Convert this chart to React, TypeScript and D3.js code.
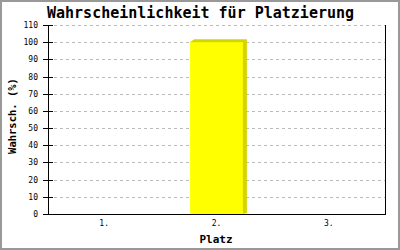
import React from "react";
import * as d3 from "d3";

const categories = ["1.", "2.", "3."];
const values = [0, 100, 0];
const yTicks = [0, 10, 20, 30, 40, 50, 60, 70, 80, 90, 100, 110];
const title = "Wahrscheinlichkeit für Platzierung";
const xTitle = "Platz";
const yTitle = "Wahrsch. (%)";

export default function App() {
  const W = 400, H = 250;
  const left = 48, right = 385, top = 25, bottom = 214;
  const x = d3.scaleBand().domain(categories).range([left, right]).paddingInner(0.53).paddingOuter(0.265);
  const y = d3.scaleLinear().domain([0, 110]).range([bottom, top]);
  const mono = "'DejaVu Sans Mono', monospace";
  const depth = 4;
  return (
    <svg width={W} height={H} style={{ position: "absolute", left: 0, top: 0, display: "block" }}>
      <rect x={1} y={1} width={W - 2} height={H - 2} fill="#fff" stroke="#999" strokeWidth={2} />
      <text x={47} y={18} fontFamily={mono} fontWeight="bold" fontSize={15} fill="#000">{title}</text>
      {yTicks.filter(t => t > 0).map(t => (
        <line key={"g" + t} x1={left + 6} x2={right} y1={Math.round(y(t)) + 0.5} y2={Math.round(y(t)) + 0.5}
          stroke="#bbb" strokeDasharray="3,3" />
      ))}
      {categories.map((c, i) => {
        const v = values[i];
        if (v <= 0) return null;
        const bx = x(c)!, bw = x.bandwidth(), by = y(v);
        return (
          <g key={c}>
            <polygon points={`${bx},${by} ${bx + depth},${by - depth + 1} ${bx + bw + depth},${by - depth + 1} ${bx + bw + depth},${bottom - 1} ${bx + bw},${bottom}`}
              fill="#d4d400" />
            <rect x={bx} y={by} width={bw} height={bottom - by} fill="#ffff00" />
          </g>
        );
      })}
      <line x1={left + 0.5} x2={left + 0.5} y1={top} y2={bottom} stroke="#000" />
      <line x1={right + 0.5} x2={right + 0.5} y1={top} y2={bottom} stroke="#000" />
      <line x1={43} x2={right + 1} y1={bottom + 0.5} y2={bottom + 0.5} stroke="#000" />
      {yTicks.map(t => (
        <g key={"t" + t}>
          {t > 0 && <line x1={43} x2={53} y1={Math.round(y(t)) + 0.5} y2={Math.round(y(t)) + 0.5} stroke="#000" />}
          <text x={38} y={Math.round(y(t)) + 3} textAnchor="end" fontFamily={mono} fontSize={8} fill="#000">{t}</text>
        </g>
      ))}
      {categories.map(c => (
        <text key={"x" + c} x={x(c)! + x.bandwidth() / 2} y={226} textAnchor="middle" fontFamily={mono} fontSize={8} fill="#000">{c}</text>
      ))}
      <text x={216} y={243} textAnchor="middle" fontFamily={mono} fontWeight="bold" fontSize={11} fill="#000">{xTitle}</text>
      <text transform={`translate(16,116) rotate(-90)`} textAnchor="middle" fontFamily={mono} fontWeight="bold" fontSize={10.5} fill="#000">{yTitle}</text>
    </svg>
  );
}
